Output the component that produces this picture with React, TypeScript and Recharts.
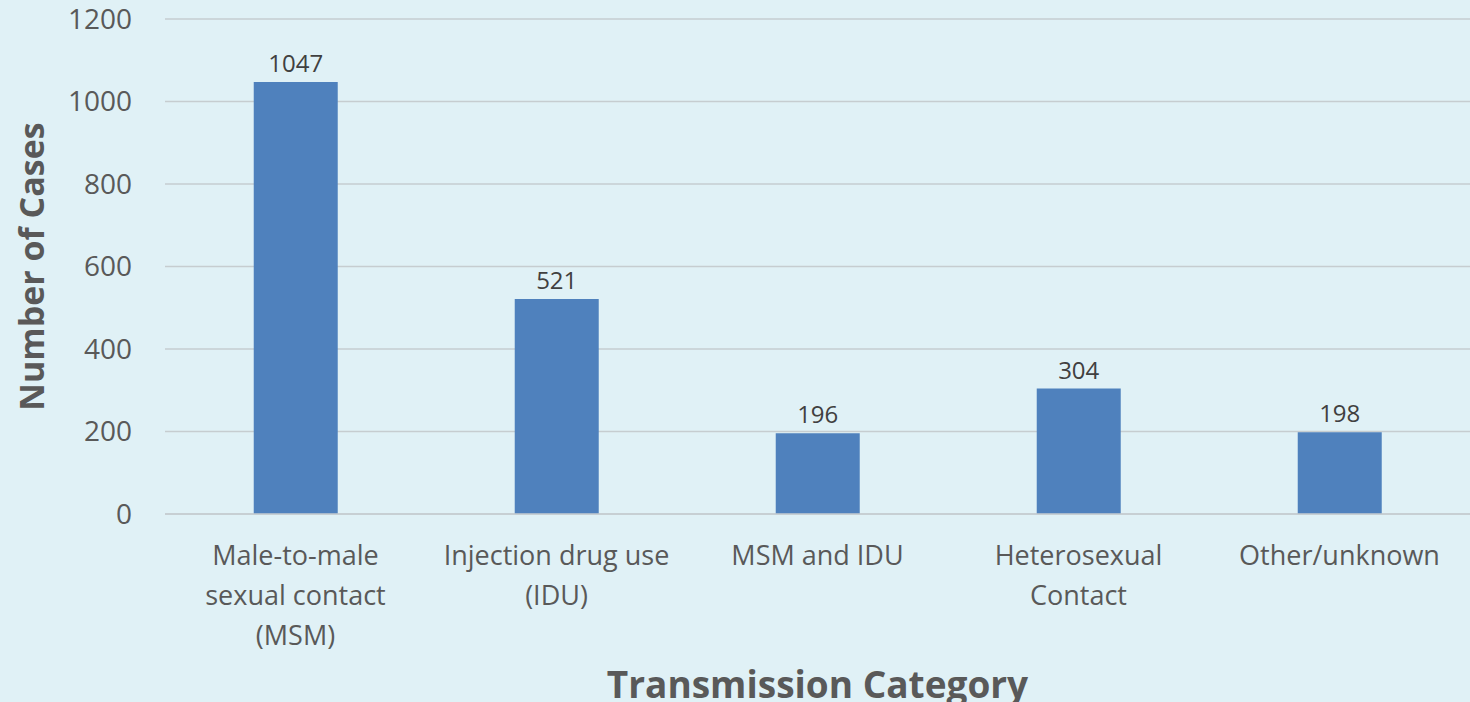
import { Bar, BarChart, CartesianGrid, LabelList, XAxis, YAxis } from "recharts";

const categories = [
  "Male-to-male sexual contact (MSM)",
  "Injection drug use (IDU)",
  "MSM and IDU",
  "Heterosexual Contact",
  "Other/unknown",
];
// how each category label breaks into lines
const categoryLines = [
  ["Male-to-male", "sexual contact", "(MSM)"],
  ["Injection drug use", "(IDU)"],
  ["MSM and IDU"],
  ["Heterosexual", "Contact"],
  ["Other/unknown"],
];
const cases = [1047, 521, 196, 304, 198];
const yTicks = [0, 200, 400, 600, 800, 1000, 1200];

const data = categories.map((name, i) => ({ name, cases: cases[i] }));

const FONT = "'Open Sans', 'Noto Sans', sans-serif";

function CategoryTick(props: any) {
  const { x, y, payload } = props;
  const lines = categoryLines[payload.index] ?? [payload.value];
  return (
    <text
      x={x}
      y={y}
      textAnchor="middle"
      fill="#595959"
      fontSize={27}
      fontFamily={FONT}
    >
      {lines.map((line, i) => (
        <tspan key={i} x={x} dy={i === 0 ? 43 : 40}>
          {line}
        </tspan>
      ))}
    </text>
  );
}

export default function App() {
  return (
    <div
      style={{
        position: "fixed",
        left: 0,
        top: 0,
        width: 1470,
        height: 702,
        background: "#e0f1f6",
      }}
    >
      <BarChart
        width={1470}
        height={702}
        data={data}
        margin={{ top: 19, right: 0, bottom: 0, left: 0 }}
        barCategoryGap="34%"
      >
        <CartesianGrid vertical={false} stroke="#c6cdd0" strokeWidth={1.5} />
        <XAxis
          dataKey="name"
          interval={0}
          tickLine={false}
          axisLine={{ stroke: "#c6cdd0", strokeWidth: 1.5 }}
          tick={<CategoryTick />}
          height={188}
          label={{
            value: "Transmission Category",
            position: "insideBottom",
            offset: 4,
            fill: "#595959",
            fontSize: 37,
            fontWeight: 700,
            fontFamily: FONT,
          }}
        />
        <YAxis
          domain={[0, 1200]}
          ticks={yTicks}
          width={165}
          tickLine={false}
          axisLine={false}
          tickSize={0}
          tickMargin={33}
          tick={{ fill: "#595959", fontSize: 28, fontFamily: FONT }}
          label={{
            value: "Number of Cases",
            angle: -90,
            position: "insideLeft",
            offset: 32,
            style: { textAnchor: "middle" },
            fill: "#595959",
            fontSize: 34,
            fontWeight: 700,
            fontFamily: FONT,
          }}
        />
        <Bar dataKey="cases" fill="#4f81bd" isAnimationActive={false}>
          <LabelList
            dataKey="cases"
            position="top"
            offset={10}
            fill="#404040"
            fontSize={24}
            fontFamily={FONT}
          />
        </Bar>
      </BarChart>
    </div>
  );
}
